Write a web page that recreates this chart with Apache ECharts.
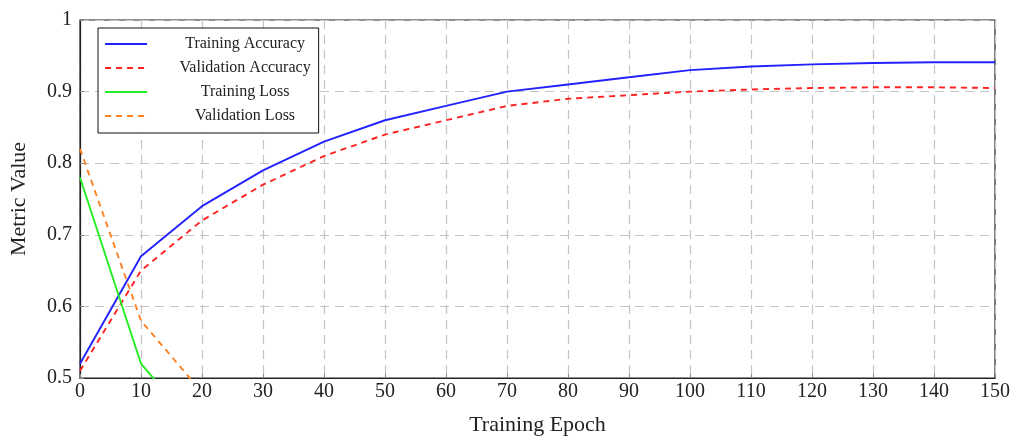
<!DOCTYPE html>
<html>
<head>
<meta charset="utf-8">
<script src="https://cdn.jsdelivr.net/npm/echarts@6/dist/echarts.min.js"></script>
<style>
  html, body { margin: 0; padding: 0; background: #fff; }
  #main { width: 1012px; height: 438px; }
</style>
</head>
<body>
<div id="main"></div>
<script>
// data
let epochs = [0, 10, 20, 30, 40, 50, 60, 70, 80, 90, 100, 110, 120, 130, 140, 150];
let trainAcc = [0.52, 0.67, 0.74, 0.79, 0.83, 0.86, 0.88, 0.90, 0.91, 0.92, 0.93, 0.935, 0.938, 0.94, 0.941, 0.941];
let valAcc = [0.51, 0.65, 0.72, 0.77, 0.81, 0.84, 0.86, 0.88, 0.89, 0.895, 0.90, 0.903, 0.905, 0.906, 0.906, 0.905];
let trainLoss = [0.78, 0.52, 0.42, 0.35, 0.30, 0.26, 0.23, 0.20, 0.18, 0.16, 0.15, 0.14, 0.13, 0.12, 0.11, 0.10];
let valLoss = [0.82, 0.58, 0.48, 0.42, 0.38, 0.35, 0.33, 0.31, 0.30, 0.29, 0.28, 0.28, 0.27, 0.27, 0.27, 0.27];
let seriesNames = ["Training Accuracy", "Validation Accuracy", "Training Loss", "Validation Loss"];

let font = "'Liberation Serif', 'DejaVu Serif', serif";

// 把 x 和 y 拼成点
function pairs(ys) {
  return epochs.map(function (e, i) { return [e, ys[i]]; });
}

function line(name, ys, color, dashed) {
  return {
    name: name,
    type: "line",
    data: pairs(ys),
    symbol: "none",
    showSymbol: false,
    clip: true,
    lineStyle: { color: color, width: 1.9, type: dashed ? [6, 5] : "solid" },
    itemStyle: { color: color },
  };
}

let myChart = echarts.init(document.getElementById("main"));

var option = {
  backgroundColor: "#fff",
  animation: false,
  grid: {
    left: 80,
    right: 17,
    top: 20,
    bottom: 60,
    outerBoundsMode: "none",
    show: true,
    borderColor: "#222",
    borderWidth: 1.2,
    backgroundColor: "transparent",
  },
  legend: {
    left: 98,
    top: 28,
    orient: "vertical",
    backgroundColor: "#fff",
    borderColor: "#111",
    borderWidth: 1,
    padding: [8, 8, 9, 6],
    itemGap: 8,
    itemWidth: 42,
    itemHeight: 16,
    data: seriesNames,
    itemStyle: { opacity: 0 },
    lineStyle: { width: 2.2 },
    textStyle: {
      fontFamily: font,
      fontSize: 16,
      color: "#222",
      rich: {
        c: { width: 186, align: "center", fontFamily: font, fontSize: 16, color: "#222" },
      },
    },
    formatter: function (name) {
      return "{c|" + name + "}";
    },
  },
  xAxis: {
    type: "value",
    min: 0,
    max: 150,
    interval: 10,
    name: "Training Epoch",
    nameLocation: "middle",
    nameGap: 36,
    nameTextStyle: { fontFamily: font, fontSize: 22, color: "#222" },
    axisLine: { show: true, onZero: false, lineStyle: { color: "#222", width: 1.2 } },
    axisTick: { show: true, inside: true, length: 4, lineStyle: { color: "#888" } },
    axisLabel: { fontFamily: font, fontSize: 20, color: "#222", margin: 4 },
    splitLine: { show: true, lineStyle: { color: "#c4c4c4", type: [9, 6], width: 1.2 } },
  },
  yAxis: {
    type: "value",
    min: 0.5,
    max: 1,
    interval: 0.1,
    name: "Metric Value",
    nameLocation: "middle",
    nameGap: 50,
    nameTextStyle: { fontFamily: font, fontSize: 22, color: "#222" },
    axisLine: { show: true, lineStyle: { color: "#222", width: 1.2 } },
    axisTick: { show: true, inside: true, length: 4, lineStyle: { color: "#888" } },
    axisLabel: {
      fontFamily: font,
      fontSize: 20,
      color: "#222",
      margin: 8,
      formatter: function (v) {
        return v === 1 ? "1" : v.toFixed(1);
      },
    },
    splitLine: { show: true, lineStyle: { color: "#c4c4c4", type: [9, 6], width: 1.2 } },
  },
  series: [
    line(seriesNames[0], trainAcc, "#2222ff", false),
    line(seriesNames[1], valAcc, "#ff2222", true),
    line(seriesNames[2], trainLoss, "#22ee22", false),
    line(seriesNames[3], valLoss, "#ff8020", true),
  ],
};

myChart.setOption(option);
</script>
</body>
</html>
